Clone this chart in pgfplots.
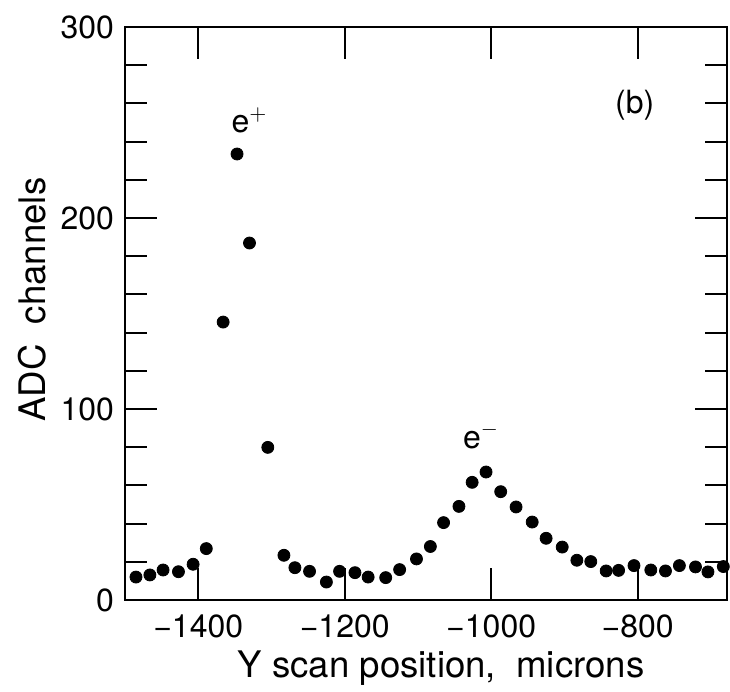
\documentclass[border=0pt]{standalone}
\usepackage{fontspec}
\setmainfont{TeX Gyre Heros}
\usepackage{pgfplots}
\pgfplotsset{compat=1.18}
\begin{document}
\fontsize{16}{19}\selectfont
\begin{tikzpicture}
\begin{axis}[
    scale only axis,
    width=301pt, height=286.5pt,
    xmin=-1500, xmax=-678,
    ymin=0, ymax=300,
    xtick={-1400,-1200,-1000,-800},
    xticklabels={−1400,−1200,−1000,−800},
    ytick={0,100,200,300},
    minor y tick num=4,
    tick align=inside,
    major tick length=16pt,
    minor tick length=11pt,
    axis line style={line width=1.4pt},
    every tick/.style={black, line width=1pt},
    tick label style={font=\fontsize{16}{19}\selectfont},
    xticklabel style={yshift=-2pt},
    /pgf/number format/assume math mode=true,
    xlabel={Y scan position,\ \ microns},
    ylabel={ADC\ \ channels},
    label style={font=\fontsize{18.3}{21}\selectfont, inner sep=0pt},
    xlabel style={at={(axis description cs:0.525,0)}, anchor=center, yshift=-34pt},
    ylabel style={at={(axis description cs:0,0.524)}, anchor=center, yshift=46.5pt},
]
\addplot[only marks, mark=*, mark size=3pt, black] coordinates {
(-1485, 12.0) (-1466, 13.1) (-1448, 15.7) (-1427, 14.8) (-1407, 18.7)
(-1389, 26.9) (-1366, 145.5) (-1347, 233.5) (-1330, 186.9) (-1305, 79.9)
(-1283, 23.4) (-1268, 16.9) (-1248, 15.0) (-1225, 9.4) (-1207, 15.0)
(-1186, 14.3) (-1168, 12.0) (-1144, 11.7) (-1125, 15.9) (-1102, 21.5)
(-1083, 28.0) (-1065, 40.5) (-1044, 49.0) (-1026, 61.6) (-1007, 67.0)
(-987, 56.7) (-966, 48.7) (-944, 40.8) (-925, 32.3) (-903, 27.7)
(-883, 20.8) (-864, 20.1) (-843, 15.2) (-826, 15.5) (-805, 18.0)
(-782, 15.7) (-762, 15.2) (-743, 18.0) (-721, 17.3) (-704, 14.7)
(-683, 17.5)
};
\node at (axis cs:-1330,251) {e$^+$};
\node at (axis cs:-1014,86) {e$^-$};
\node at (axis cs:-804,259) {(b)};
\end{axis}
\pgfresetboundingbox
\path[use as bounding box] ([xshift=-62.5pt,yshift=-46pt]current axis.south west)
    rectangle ([xshift=1.5pt,yshift=13.5pt]current axis.north east);
\end{tikzpicture}
\end{document}
